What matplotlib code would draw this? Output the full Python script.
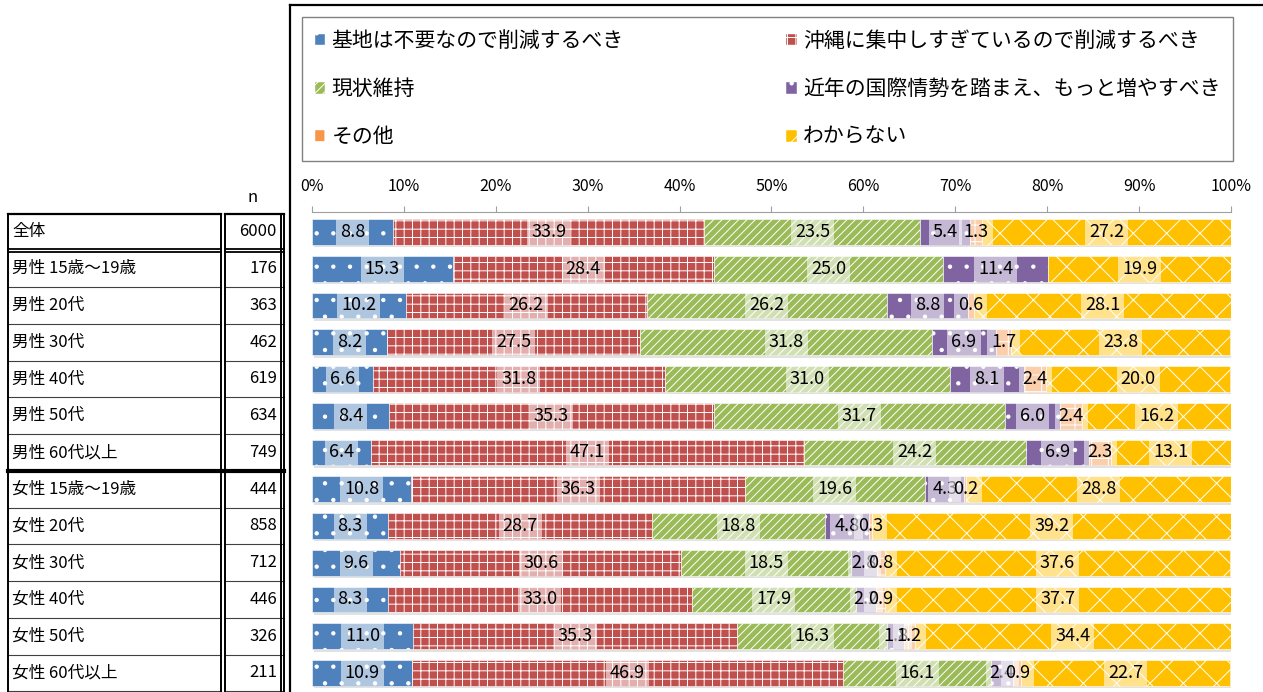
import matplotlib

matplotlib.use("Agg")
import matplotlib.pyplot as plt
from matplotlib.lines import Line2D
from matplotlib.patches import Patch
import numpy as np

plt.rcParams["font.family"] = ["Noto Sans CJK JP", "DejaVu Sans"]
plt.rcParams["hatch.linewidth"] = 0.7

groups = ["全体", "男性 15歳～19歳", "男性 20代", "男性 30代", "男性 40代", "男性 50代",
          "男性 60代以上", "女性 15歳～19歳", "女性 20代", "女性 30代", "女性 40代",
          "女性 50代", "女性 60代以上"]
n_counts = [6000, 176, 363, 462, 619, 634, 749, 444, 858, 712, 446, 326, 211]

answers = ["基地は不要なので削減するべき", "沖縄に集中しすぎているので削減するべき", "現状維持",
           "近年の国際情勢を踏まえ、もっと増やすべき", "その他", "わからない"]

reduce_unneeded = [8.8, 15.3, 10.2, 8.2, 6.6, 8.4, 6.4, 10.8, 8.3, 9.6, 8.3, 11.0, 10.9]
reduce_okinawa = [33.9, 28.4, 26.2, 27.5, 31.8, 35.3, 47.1, 36.3, 28.7, 30.6, 33.0, 35.3, 46.9]
keep_status = [23.5, 25.0, 26.2, 31.8, 31.0, 31.7, 24.2, 19.6, 18.8, 18.5, 17.9, 16.3, 16.1]
increase = [5.4, 11.4, 8.8, 6.9, 8.1, 6.0, 6.9, 4.3, 4.8, 2.8, 2.2, 1.8, 2.4]
other = [1.3, 0.0, 0.6, 1.7, 2.4, 2.4, 2.3, 0.2, 0.3, 0.8, 0.9, 1.2, 0.9]
dont_know = [27.2, 19.9, 28.1, 23.8, 20.0, 16.2, 13.1, 28.8, 39.2, 37.6, 37.7, 34.4, 22.7]

series = [reduce_unneeded, reduce_okinawa, keep_status, increase, other, dont_know]
colors = ["#4f81bd", "#c0504d", "#9bbb59", "#8064a2", "#f79646", "#ffc000"]
hatches = [".", "++", "////", ".", "+", "x"]

W, H = 1263, 692
fig = plt.figure(figsize=(W / 100, H / 100), dpi=100)


def fx(px):
    return px / W


def fy(px):
    return 1 - px / H


# bar panel: 0%..100% spans x 312..1231 px, rows start at y 212 px
ax = fig.add_axes([fx(312), 0, fx(1231) - fx(312), fy(212)])
rows = np.arange(len(groups))
bar_h = 0.7
left = np.zeros(len(groups))
totals = np.sum(series, axis=0)
ax.barh(rows + 0.07, totals, left=0.2, height=bar_h, color="#e2e2e2", zorder=1)
for vals, col, hat in zip(series, colors, hatches):
    vals = np.array(vals)
    ax.barh(rows, vals, left=left, height=bar_h, color=col, hatch=hat,
            edgecolor="white", linewidth=0.4, zorder=2)
    for r, v, l in zip(rows, vals, left):
        if v <= 0:
            continue
        ax.text(l + v / 2, r, f"{v:.1f}", ha="center", va="center", fontsize=13,
                zorder=4, bbox=dict(boxstyle="square,pad=0.22", facecolor="white",
                                    alpha=0.55, edgecolor="none"))
    left += vals

ax.set_xlim(0, 100)
ax.set_ylim(len(groups) - 0.483, -0.544)
ax.xaxis.tick_top()
ax.set_xticks(np.arange(0, 101, 10))
ax.set_xticklabels([f"{t}%" for t in range(0, 101, 10)], fontsize=11.5)
ax.tick_params(axis="x", direction="out", length=4, color="#a0a0a0", pad=8)
ax.set_yticks([])
for side in ("bottom", "left", "right"):
    ax.spines[side].set_visible(False)
ax.spines["top"].set_color("#a0a0a0")
ax.patch.set_alpha(0)

# left-hand table with group names and sample sizes
tab = fig.add_axes([0, 0, fx(290), fy(212)])
tab.set_xlim(0, 290)
tab.set_ylim(len(groups) - 0.483, -0.544)
tab.axis("off")
tab.text(253, -0.95, "n", ha="center", va="center", fontsize=12, clip_on=False)
for r, (g, n) in enumerate(zip(groups, n_counts)):
    tab.text(12, r, g, ha="left", va="center", fontsize=12)
    tab.text(277, r, f"{n}", ha="right", va="center", fontsize=12)
spans = [(8, 221), (225, 284)]
for r in range(len(groups) + 1):
    yb = r - 0.5
    for x0, x1 in spans:
        if r == 0:
            tab.plot([x0, x1], [yb, yb], color="black", lw=1.6)
        elif r == 1:
            tab.plot([x0, x1], [yb - 0.04, yb - 0.04], color="black", lw=1.3)
            tab.plot([x0, x1], [yb + 0.04, yb + 0.04], color="black", lw=1.3)
        elif r == 7:
            tab.plot([x0, x1], [yb, yb], color="black", lw=3)
        else:
            tab.plot([x0, x1], [yb, yb], color="#404040", lw=0.8)
for xv in (8, 221, 225, 281, 284):
    tab.plot([xv, xv], [-0.5, len(groups) + 0.5], color="black", lw=1.4,
             clip_on=True)

# outer frame of the chart panel
fig.add_artist(Line2D([fx(290), fx(290)], [fy(5), 0], color="black", lw=1.6))
fig.add_artist(Line2D([fx(290), 1], [fy(5), fy(5)], color="black", lw=1.6))

handles = [Patch(facecolor=c, hatch=h, edgecolor="white", linewidth=0.3)
           for c, h in zip(colors, hatches)]
order = [0, 2, 4, 1, 3, 5]
leg = fig.legend([handles[i] for i in order], [answers[i] for i in order],
                 ncol=2, loc="upper left", bbox_to_anchor=(fx(302), fy(17)),
                 borderaxespad=0, fontsize=15, handlelength=0.5,
                 handleheight=0.5, handletextpad=0.3, labelspacing=1.25,
                 borderpad=0.62, columnspacing=7.8,
                 fancybox=False, edgecolor="#808080", framealpha=1)
leg.get_frame().set_linewidth(1.0)

fig.savefig("out.png", dpi=100)
